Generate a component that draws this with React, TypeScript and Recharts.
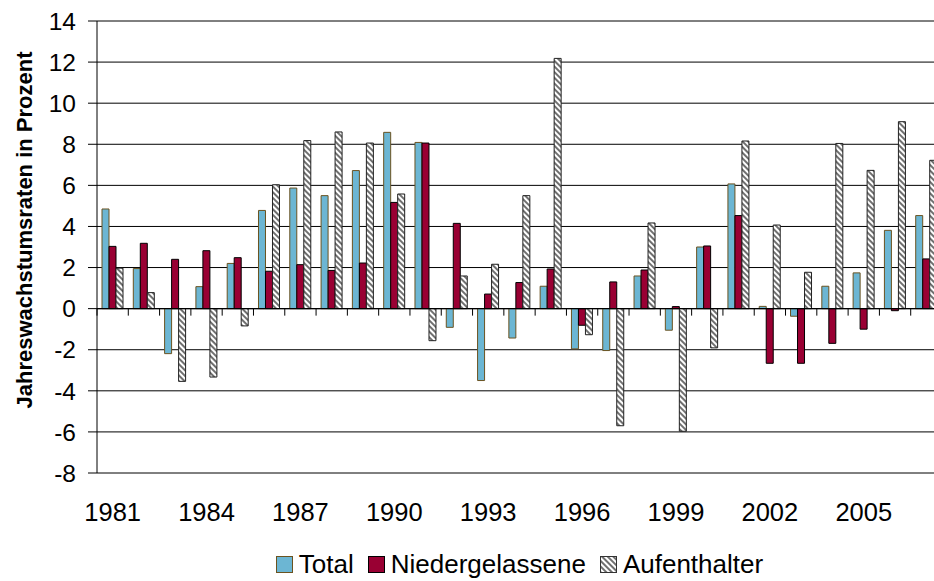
import React from 'react';
import {
  BarChart,
  Bar,
  XAxis,
  YAxis,
  CartesianGrid,
  ReferenceLine,
  Legend,
} from 'recharts';

// Jahreswachstumsraten (%) 1981–2007
const years = [
  '1981', '1982', '1983', '1984', '1985', '1986', '1987', '1988', '1989',
  '1990', '1991', '1992', '1993', '1994', '1995', '1996', '1997', '1998',
  '1999', '2000', '2001', '2002', '2003', '2004', '2005', '2006', '2007',
];

const total = [
  4.85, 1.95, -2.19, 1.07, 2.2, 4.78, 5.87, 5.5, 6.72,
  8.58, 8.09, -0.91, -3.5, -1.43, 1.09, -1.96, -2.04, 1.59,
  -1.05, 3.0, 6.07, 0.11, -0.37, 1.09, 1.74, 3.81, 4.53,
];

const niedergelassene = [
  3.03, 3.18, 2.4, 2.82, 2.48, 1.82, 2.14, 1.86, 2.22,
  5.17, 8.06, 4.15, 0.71, 1.27, 1.93, -0.81, 1.3, 1.88,
  0.1, 3.05, 4.53, -2.66, -2.66, -1.69, -1.0, -0.1, 2.42,
];

const aufenthalter = [
  1.97, 0.78, -3.54, -3.33, -0.84, 6.03, 8.18, 8.6, 8.06,
  5.58, -1.56, 1.59, 2.16, 5.5, 12.18, -1.27, -5.7, 4.17,
  -5.97, -1.91, 8.16, 4.07, 1.77, 8.04, 6.73, 9.1, 7.22,
];

const yTicks = [-8, -6, -4, -2, 0, 2, 4, 6, 8, 10, 12, 14];

const data = years.map((year, i) => ({
  year,
  total: total[i],
  niedergelassene: niedergelassene[i],
  aufenthalter: aufenthalter[i],
}));

const FONT = '"Liberation Sans", Arial, Helvetica, sans-serif';

const legendItems = [
  { name: 'Total', fill: '#6cb6d3', stroke: '#6b5320' },
  { name: 'Niedergelassene', fill: '#990033', stroke: '#000' },
  { name: 'Aufenthalter', fill: 'url(#hatchLegend)', stroke: '#333' },
];

// zero line with the small category tick marks hanging below it
const ZeroAxis = (props: any) => {
  const { x1, x2, y1 } = props;
  if (x1 == null || x2 == null || y1 == null) return null;
  const step = (x2 - x1) / years.length;
  const marks = [];
  for (let i = 0; i <= years.length; i++) {
    const x = x1 + step * i;
    marks.push(<line key={i} x1={x} x2={x} y1={y1} y2={y1 + 7} stroke="#000" strokeWidth={1} />);
  }
  return (
    <g>
      <line x1={x1} x2={x2} y1={y1} y2={y1} stroke="#000" strokeWidth={1.2} />
      {marks}
    </g>
  );
};

const YLabel = (props: any) => {
  const vb = props.viewBox || { x: 0, y: 21, width: 97, height: 452 };
  const x = vb.x + 24;
  const y = vb.y + vb.height / 2 - 17;
  return (
    <text
      x={x}
      y={y}
      dy="0.35em"
      transform={`rotate(-90, ${x}, ${y})`}
      textAnchor="middle"
      fontFamily={FONT}
      fontWeight="bold"
      fontSize={22}
      fill="#000"
    >
      Jahreswachstumsraten in Prozent
    </text>
  );
};

const LegendContent = () => (
  <div
    style={{
      display: 'flex',
      justifyContent: 'center',
      alignItems: 'center',
      height: 34,
      fontFamily: FONT,
      fontSize: 26,
      color: '#000',
      whiteSpace: 'nowrap',
    }}
  >
    {legendItems.map((item, i) => (
      <span
        key={item.name}
        style={{ display: 'inline-flex', alignItems: 'center', marginLeft: i === 0 ? 0 : 14 }}
      >
        <svg width={17} height={17} style={{ marginRight: 6 }}>
          {i === 2 && (
            <defs>
              <pattern
                id="hatchLegend"
                width="4"
                height="4"
                patternUnits="userSpaceOnUse"
                patternTransform="rotate(-45)"
              >
                <rect width="4" height="4" fill="#fff" />
                <rect width="2" height="4" fill="#707070" />
              </pattern>
            </defs>
          )}
          <rect x={0.5} y={0.5} width={16} height={16} fill={item.fill} stroke={item.stroke} strokeWidth={1} />
        </svg>
        <span>{item.name}</span>
      </span>
    ))}
  </div>
);

export default function App() {
  return (
    <div
      style={{
        position: 'absolute',
        left: 0,
        top: 0,
        width: 934,
        height: 581,
        overflow: 'hidden',
        background: '#fff',
      }}
    >
      <BarChart
        width={950}
        height={581}
        data={data}
        margin={{ top: 21, right: 8, left: 0, bottom: 0 }}
        barCategoryGap="16%"
        barGap={0}
      >
        <defs>
          <pattern
            id="hatchBar"
            width="4"
            height="4"
            patternUnits="userSpaceOnUse"
            patternTransform="rotate(-45)"
          >
            <rect width="4" height="4" fill="#fff" />
            <rect width="2" height="4" fill="#707070" />
          </pattern>
        </defs>
        <CartesianGrid vertical={false} stroke="#000" strokeWidth={1} />
        <XAxis
          dataKey="year"
          interval={2}
          axisLine={false}
          tickLine={false}
          tickSize={0}
          tickMargin={30}
          height={74}
          tick={{ fontSize: 25.5, fill: '#000', fontFamily: FONT }}
        />
        <YAxis
          domain={[-8, 14]}
          ticks={yTicks}
          width={97}
          interval={0}
          axisLine={{ stroke: '#000' }}
          tickLine={{ stroke: '#000' }}
          tickSize={9}
          tickMargin={12}
          tick={{ fontSize: 24.5, fill: '#000', fontFamily: FONT }}
          label={<YLabel />}
        />
        <Legend
          verticalAlign="bottom"
          content={<LegendContent />}
          wrapperStyle={{ left: 97, width: 845, height: 34 }}
        />
        <Bar dataKey="total" name="Total" fill="#6cb6d3" stroke="#6b5320" strokeWidth={1} isAnimationActive={false} />
        <Bar dataKey="niedergelassene" name="Niedergelassene" fill="#990033" stroke="#000" strokeWidth={1} isAnimationActive={false} />
        <Bar dataKey="aufenthalter" name="Aufenthalter" fill="url(#hatchBar)" stroke="#222" strokeWidth={1} isAnimationActive={false} />
        <ReferenceLine y={0} shape={<ZeroAxis />} />
      </BarChart>
    </div>
  );
}
